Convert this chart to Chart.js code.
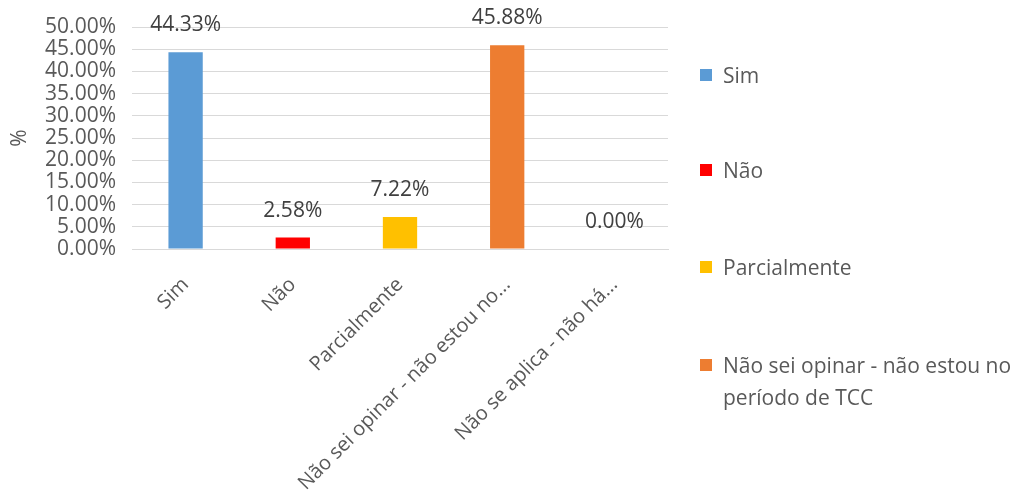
<!DOCTYPE html>
<html>
<head>
<meta charset="utf-8">
<script src="https://cdn.jsdelivr.net/npm/chart.js@4/dist/chart.umd.min.js"></script>
<style>
  html, body { margin: 0; padding: 0; background: #fff; }
  #wrap { position: relative; width: 1013px; height: 495px; }
  #legend { position: absolute; left: 700px; top: 0; width: 313px; font-family: 'Open Sans', sans-serif; font-size: 21px; color: #595959; }
  .item { position: absolute; left: 0; display: flex; align-items: flex-start; line-height: 32px; white-space: nowrap; }
  .box { width: 12px; height: 12px; margin-top: 10px; margin-right: 11px; flex: none; }
</style>
</head>
<body>
<div id="wrap">
  <canvas id="bar-chart"></canvas>
  <div id="legend"></div>
</div>
<script>
// categories and values
const categories = ['Sim', 'Não', 'Parcialmente', 'Não sei opinar - não estou no período de TCC', 'Não se aplica - não há...'];
const tickLabels = ['Sim', 'Não', 'Parcialmente', 'Não sei opinar - não estou no...', 'Não se aplica - não há...'];
const values = [44.33, 2.58, 7.22, 45.88, 0.00];
const colors = ['#5B9BD5', '#FF0000', '#FFC000', '#ED7D31', '#A5A5A5'];
const yTicks = [0, 5, 10, 15, 20, 25, 30, 35, 40, 45, 50];
const legendTops = [59, 154, 251, 349];

const font = 'Open Sans';
const grey = '#595959';
const fontSize = 21;

// value labels above each bar
const valueLabels = {
    id: 'valueLabels',
    afterDatasetsDraw(chart) {
        const ctx = chart.ctx;
        const meta = chart.getDatasetMeta(0);
        ctx.save();
        ctx.font = fontSize + 'px "' + font + '"';
        ctx.fillStyle = '#404040';
        ctx.textAlign = 'center';
        ctx.textBaseline = 'middle';
        meta.data.forEach((bar, i) => {
            ctx.fillText(values[i].toFixed(2) + '%', bar.x, bar.y - 27);
        });
        ctx.restore();
    }
};

function createBarChart() {
    const ctx = document.getElementById('bar-chart').getContext('2d');
    new Chart(ctx, {
        type: 'bar',
        data: {
            labels: tickLabels,
            datasets: [{
                data: values,
                backgroundColor: colors,
                barPercentage: 0.32,
                categoryPercentage: 1
            }]
        },
        options: {
            responsive: true,
            maintainAspectRatio: false,
            animation: false,
            layout: { padding: { top: 27, right: 345, left: 0, bottom: 0 } },
            plugins: { legend: { display: false }, tooltip: { enabled: false } },
            scales: {
                x: {
                    grid: { display: false },
                    border: { color: '#d9d9d9' },
                    ticks: {
                        color: grey,
                        font: { family: font, size: 20 },
                        maxRotation: 45,
                        minRotation: 45,
                        padding: 16,
                        autoSkip: false
                    },
                    afterFit(axis) { axis.height = 246; }
                },
                y: {
                    min: 0,
                    max: 50,
                    afterBuildTicks(axis) { axis.ticks = yTicks.map(v => ({ value: v })); },
                    grid: { color: '#d9d9d9', drawTicks: false },
                    border: { display: false },
                    ticks: {
                        color: grey,
                        font: { family: font, size: fontSize, lineHeight: 1 },
                        padding: 16,
                        autoSkip: false,
                        callback: v => v.toFixed(2) + '%'
                    },
                    title: {
                        display: true,
                        text: '%',
                        color: grey,
                        font: { family: font, size: fontSize },
                        padding: { top: 7, bottom: 0 }
                    },
                    afterFit(axis) { axis.width = 132; }
                }
            }
        },
        plugins: [valueLabels]
    });
}

function createLegend() {
    const legend = document.getElementById('legend');
    categories.slice(0, 4).forEach((name, i) => {
        const item = document.createElement('div');
        item.className = 'item';
        item.style.top = legendTops[i] + 'px';
        item.innerHTML = '<div class="box" style="background:' + colors[i] + '"></div><div>' +
            (i === 3 ? 'Não sei opinar - não estou no<br>período de TCC' : name) + '</div>';
        legend.appendChild(item);
    });
}

window.addEventListener('DOMContentLoaded', () => {
    createBarChart();
    createLegend();
});
</script>
</body>
</html>
